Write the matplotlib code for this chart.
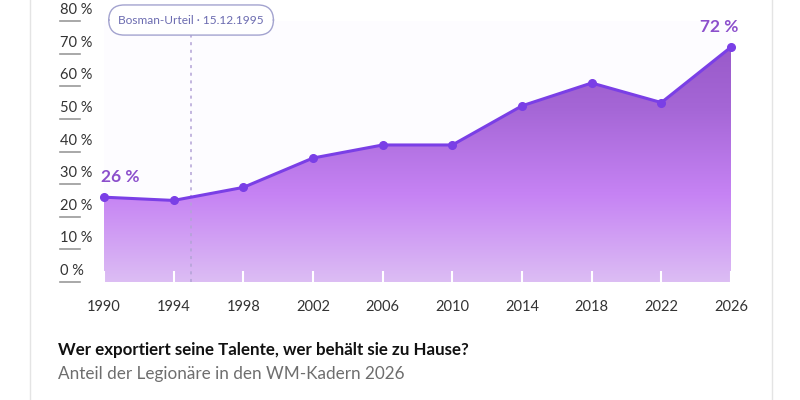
import numpy as np
import matplotlib
matplotlib.use('Agg')
import matplotlib.pyplot as plt
from matplotlib.colors import LinearSegmentedColormap
from matplotlib.patches import Polygon
from matplotlib.transforms import blended_transform_factory
from matplotlib.lines import Line2D

plt.rcParams['font.family'] = ['Lato', 'DejaVu Sans']

years = [1990, 1994, 1998, 2002, 2006, 2010, 2014, 2018, 2022, 2026]
share = [26, 25, 29, 38, 42, 42, 54, 61, 55, 72]
yticks = [0, 10, 20, 30, 40, 50, 60, 70, 80]
ytick_labels = ['%d %%' % v for v in yticks]
bosman_year = 1995
bosman_label = 'Bosman-Urteil · 15.12.1995'
title = 'Wer exportiert seine Talente, wer behält sie zu Hause?'
subtitle = 'Anteil der Legionäre in den WM-Kadern 2026'

W, H = 800, 400
fig = plt.figure(figsize=(W / 100, H / 100), dpi=100, facecolor='white')

# plot area in pixels
x0, x1 = 104, 731
y0, y1 = 282, 21
ax = fig.add_axes([x0 / W, 1 - y0 / H, (x1 - x0) / W, (y0 - y1) / H])
ax.set_xlim(years[0], years[-1])
ax.set_ylim(0, 80)
ax.set_facecolor('#fdfcff')
for s in ax.spines.values():
    s.set_visible(False)

# gradient area
cmap = LinearSegmentedColormap.from_list('fill', ['#dcbdf3', '#c683f4', '#a566d6', '#9455c4'])
grad = np.linspace(0, 1, 256).reshape(-1, 1)
img = ax.imshow(grad, extent=[years[0], years[-1], 0, 80], origin='lower',
                cmap=cmap, aspect='auto', zorder=1)
poly = Polygon(list(zip(years, share)) + [(years[-1], 0), (years[0], 0)],
               closed=True, facecolor='none', edgecolor='none')
ax.add_patch(poly)
img.set_clip_path(poly)

ax.plot(years, share, color='#7a3fe6', lw=2.2, marker='o', ms=5.5,
        clip_on=False, zorder=4)

# x ticks: white marks inside the fill
ax.set_xticks(years)
ax.set_xticklabels([str(y) for y in years], fontsize=10.5, color='#333333')
ax.tick_params(axis='x', direction='in', length=8, width=1.5, color='white', pad=13)
ax.set_yticks([])

# y tick labels with underline, left of the area
tr = blended_transform_factory(fig.transFigure, ax.transData)
for v, lab in zip(yticks, ytick_labels):
    ax.text(60 / W, v + 1.2, lab, transform=tr, ha='left', va='bottom',
            fontsize=10.5, color='#333333', clip_on=False)
    ax.add_line(Line2D([60 / W, 80 / W], [v, v], transform=tr, color='#9a9a9a',
                       lw=1.2, clip_on=False))

# Bosman line and label
ax.plot([bosman_year, bosman_year], [0, 76], color='#b3a3d6', lw=1.1,
        ls=(0, (2, 3)), zorder=3)
ax.text(bosman_year, 80.3, bosman_label, ha='center', va='center', fontsize=8.6,
        color='#6b6bb0', clip_on=False, zorder=5,
        bbox=dict(boxstyle='round,pad=0.8,rounding_size=1.3', fc='white',
                  ec='#a3a3cf', lw=1))

# value labels at the ends
ax.annotate('%d %%' % share[0], (years[0], share[0]), xytext=(-2, 9),
            textcoords='offset points', ha='left', va='bottom', fontsize=12.5,
            fontweight='bold', color='#8c4fcc')
ax.annotate('%d %%' % share[-1], (years[-1], share[-1]), xytext=(5, 9),
            textcoords='offset points', ha='right', va='bottom', fontsize=12.5,
            fontweight='bold', color='#8c4fcc')

# card borders
for xb in (30, 772):
    fig.add_artist(Line2D([xb / W, xb / W], [0, 1], color='#e4e4e4', lw=1))

fig.text(58 / W, 1 - 350 / H, title, ha='left', va='center', fontsize=12.2,
         fontweight='bold', color='#111111')
fig.text(58 / W, 1 - 374 / H, subtitle, ha='left', va='center', fontsize=12.3,
         color='#6e6e6e')

fig.savefig('out.png', dpi=100, facecolor='white')
